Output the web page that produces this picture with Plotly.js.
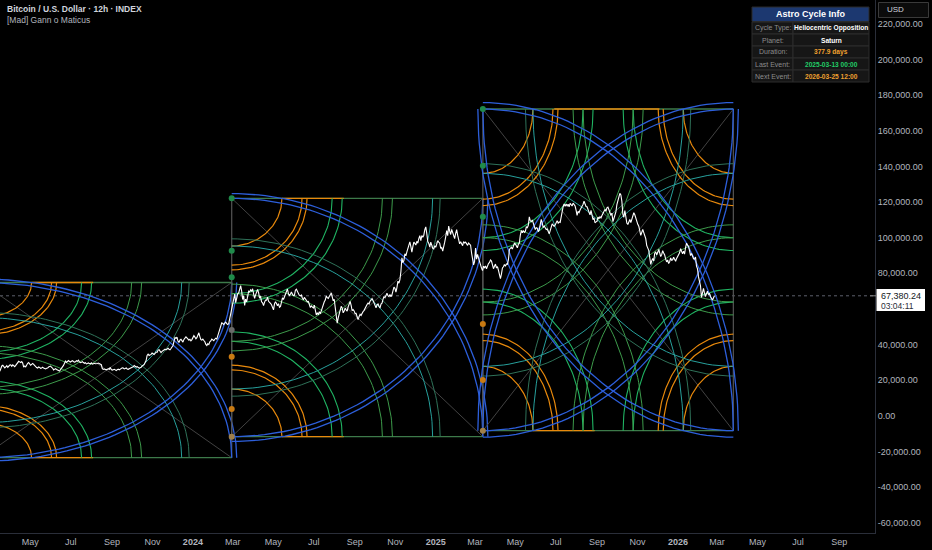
<!DOCTYPE html>
<html><head><meta charset="utf-8">
<script src="https://cdn.plot.ly/plotly-3.0.1.min.js"></script>
<style>html,body{margin:0;padding:0;background:#000;}#chart{width:932px;height:550px;}</style>
</head><body><div id="chart"></div>
<script>
// ---------- DATA ----------
const priceStart = '2023-03-16 00:00';
const priceStepDays = 3;
// price (thousands USD) every 3 days
const priceK = [
25.0,28.0,27.3,27.5,27.2,28.5,
27.8,28.0,28.3,30.0,30.3,30.4,27.3,27.5,29.5,29.3,
28.9,28.9,27.6,26.8,27.2,26.8,26.8,26.3,26.8,27.7,
27.2,25.8,26.5,25.9,25.1,26.3,28.3,30.7,30.3,30.5,
30.6,30.5,30.3,30.6,30.3,30.1,29.9,29.8,29.4,29.3,
29.7,29.2,29.2,29.4,29.3,28.7,26.1,26.0,26.1,26.1,
26.0,25.9,25.8,25.9,25.8,26.6,26.8,26.6,26.3,26.4,
27.0,27.5,27.9,27.6,26.8,27.2,28.4,29.9,33.9,33.9,
34.5,34.9,35.0,35.6,37.1,35.5,36.6,37.4,37.3,37.4,
37.8,39.5,44.0,44.2,41.2,43.0,41.4,43.7,43.7,42.5,
42.1,44.2,44.2,43.9,46.6,42.8,43.1,41.6,39.5,40.0,
42.0,42.6,43.0,43.1,47.1,50.0,51.9,52.1,51.8,51.7,
57.0,62.4,68.3,67.0,69.0,73.1,65.3,62.0,64.0,69.9,
70.7,71.3,66.0,69.0,69.1,67.1,63.4,63.8,64.9,64.3,
63.1,60.6,62.9,63.1,63.0,61.4,66.2,67.0,70.1,68.5,
68.4,68.3,67.7,71.1,69.3,67.3,66.0,66.5,64.9,64.2,
60.8,60.9,62.1,56.6,56.7,57.3,60.8,64.0,67.2,65.9,
67.9,66.8,65.4,58.1,55.0,60.9,60.6,58.9,59.5,61.2,
64.2,59.0,58.9,57.5,54.0,57.0,58.1,59.2,61.7,63.3,
64.3,65.8,63.3,60.7,62.8,60.6,63.2,67.0,68.4,67.4,
68.1,67.9,72.3,69.4,75.6,76.5,88.7,87.2,89.8,94.3,
97.7,91.9,97.5,95.9,96.9,101.2,101.2,101.4,106.1,97.8,
94.7,95.8,93.7,94.6,98.3,96.9,94.5,94.5,100.5,101.1,
103.7,104.7,101.3,102.4,101.4,96.6,96.5,97.8,97.5,95.7,
96.1,91.4,84.7,94.2,90.6,86.2,82.9,84.0,84.1,84.2,
86.1,86.9,82.6,85.2,83.8,79.2,79.6,83.7,84.0,85.1,
93.4,94.7,95.0,96.5,94.3,97.0,104.0,104.1,103.5,105.6,
111.7,109.0,107.8,104.6,105.4,104.3,110.3,105.7,105.5,104.9,
102.2,106.0,107.1,107.1,109.6,108.9,111.3,117.4,117.7,117.9,
117.4,118.3,119.4,117.8,112.5,114.1,116.6,118.7,118.3,117.4,
114.3,115.3,110.1,108.4,109.2,110.7,111.1,113.9,115.9,116.8,
115.7,112.6,109.0,112.2,118.6,122.3,124.0,113.2,115.2,108.2,
108.6,108.5,111.6,112.9,109.6,106.5,101.3,104.7,101.6,95.5,
92.9,85.0,88.3,91.3,90.4,93.4,89.4,92.7,90.3,86.4,
85.5,88.6,87.6,87.8,88.4,90.0,93.8,91.0,90.8,96.9,
95.1,90.0,89.5,88.0,84.0,78.0,73.0,70.0,69.0,68.5,
68.0,67.0,65.0,67.38
];
// intermediate swings (thousands USD), 1.5 days after each value above
const priceMidK = [
26.9,28.4,26.9,28.1,28.0,28.6,
28.6,27.6,28.9,30.6,29.9,29.6,28.0,28.7,29.9,28.4,
29.4,28.1,27.1,27.4,26.6,27.3,26.4,26.7,27.4,27.9,
26.8,26.2,26.0,25.4,25.8,27.0,29.5,30.0,31.0,30.2,
31.0,30.1,30.9,31.2,29.9,30.4,29.5,29.2,29.7,29.1,
29.0,29.5,29.1,29.6,29.0,26.5,26.3,25.8,26.5,27.2,
25.7,26.1,25.4,26.2,26.3,26.9,26.4,26.9,26.1,26.9,
27.3,28.2,27.4,27.3,27.0,28.0,28.7,31.0,34.6,34.1,
35.2,34.4,35.8,36.9,36.3,36.2,37.5,37.0,37.9,37.1,
38.6,41.8,43.5,42.0,42.5,42.2,42.9,44.3,42.9,43.0,
42.8,45.0,43.2,45.1,44.5,42.5,42.3,40.1,40.5,41.5,
43.1,42.2,43.6,45.0,48.5,52.2,51.2,52.6,51.3,54.5,
61.0,65.0,63.5,68.5,71.8,70.0,67.5,65.5,67.0,69.5,
69.9,68.5,67.9,71.0,66.0,64.0,61.9,65.0,66.6,63.9,
62.4,59.5,64.0,61.8,60.9,63.5,65.3,69.0,71.2,67.6,
69.5,67.5,70.5,69.8,67.6,67.8,65.2,65.7,64.0,61.7,
61.7,60.5,59.0,57.9,58.5,58.9,62.9,65.0,66.3,67.0,
69.0,64.6,61.5,52.0,57.5,61.5,57.8,60.5,58.8,63.5,
62.0,59.6,57.4,55.6,55.7,56.3,58.6,60.5,62.5,62.8,
65.2,64.8,61.3,62.3,61.5,62.7,65.4,66.3,68.9,66.9,
66.9,70.5,71.6,72.0,74.5,81.0,86.0,91.0,92.0,96.0,
95.0,95.0,96.8,98.0,99.5,98.4,100.2,104.5,102.3,96.8,
97.5,94.0,95.5,96.8,97.5,94.0,92.5,97.5,104.0,106.5,
101.8,102.5,99.5,104.5,98.0,97.7,95.5,97.0,96.3,97.0,
95.8,88.5,86.5,88.0,88.5,83.5,81.5,83.2,82.6,85.5,
87.5,85.0,84.0,83.0,81.6,77.0,83.0,85.0,85.3,87.5,
94.0,93.6,96.8,95.5,96.3,101.5,102.8,103.0,106.0,107.0,
109.5,110.0,105.5,105.6,103.4,107.5,108.2,106.6,104.6,103.8,
104.0,107.8,106.4,108.3,108.2,108.6,116.0,119.0,118.9,118.8,
119.3,117.8,118.2,115.5,114.8,115.5,117.2,120.5,117.5,115.9,
112.8,113.0,111.2,108.9,111.6,111.8,112.5,115.0,114.9,117.2,
113.5,113.8,110.8,114.5,120.5,124.9,120.5,111.5,111.2,107.4,
110.2,110.0,114.0,110.5,107.5,103.5,103.0,102.9,99.5,94.5,
89.0,87.0,87.0,92.0,91.8,91.5,90.5,91.4,88.0,87.5,
86.5,87.3,89.0,86.8,89.5,91.5,91.9,92.5,94.5,95.8,
92.8,91.2,88.2,89.2,82.5,76.0,66.5,71.5,67.0,70.0,
68.8,66.0,66.2
];
const lastPrice = 67380.24;
const lastPriceText = '67,380.24';
const countdownText = '03:04:11';

// Gann boxes (cycle boundaries and price range)
const boxDates = ['2023-02-16 12:00','2024-02-28 12:00','2025-03-13 00:00','2026-03-25 12:00'];
const boxLow  = [-23530, -11730, -8370];
const boxHigh = [74850, 122120, 172260];
const boxCorners = [['TL','BL'],['TL','BL'],['TL','BL','TR','BR']];
const arcRadii  = [0.2, 0.28, 0.3, 0.4, 0.44, 0.6, 0.64, 0.8, 0.83, 1.0, 1.02];
const arcColors = ['#e8890c','#e8890c','#e8890c','#20b463','#20b463','#3d9b4b','#3d9b4b','#27a09c','#2f7259','#2d5fdb','#2d5fdb'];
const arcWidths = [1.2,1.2,1.2,1.1,1.1,1.0,1.0,1.0,1.0,1.3,1.3];
const topOrange = [[0.2,0.446],[0.2,0.446],[0.285,0.705]];
const botOrange = [[0.2,0.446],[0.2,0.446],[0.2,0.446]];
// level dots on the left edge of boxes 2 and 3
const dotBox = [1,1,1,1,1,1,1, 2,2,2,2,2,2];
const dotValues = [122120, 92700, 77800, 48200, 33200, 3800, -11730, 172260, 140400, 111800, 51500, 20100, -8370];
const dotColors = ['#1f8a4a','#1f8a4a','#1f8a4a','#6a6a6a','#c97a12','#c97a12','#a0804a','#1f8a4a','#1f8a4a','#1f8a4a','#c97a12','#c97a12','#a0804a'];

// axis ticks
const xTickVals = ['2023-05-01','2023-07-01','2023-09-01','2023-11-01','2024-01-01','2024-03-01','2024-05-01','2024-07-01','2024-09-01','2024-11-01','2025-01-01','2025-03-01','2025-05-01','2025-07-01','2025-09-01','2025-11-01','2026-01-01','2026-03-01','2026-05-01','2026-07-01','2026-09-01'];
const xTickText = ['May','Jul','Sep','Nov','<b>2024</b>','Mar','May','Jul','Sep','Nov','<b>2025</b>','Mar','May','Jul','Sep','Nov','<b>2026</b>','Mar','May','Jul','Sep'];
const yTickVals = [-60000,-40000,-20000,0,20000,40000,80000,100000,120000,140000,160000,180000,200000,220000];

// info table
const tableTitle = 'Astro Cycle Info';
const tableLabels = ['Cycle Type:','Planet:','Duration:','Last Event:','Next Event:'];
const tableValues = ['Heliocentric Opposition','Saturn','377.9 days','2025-03-13 00:00','2026-03-25 12:00'];
const tableValueColors = ['#ffffff','#ffffff','#f0a030','#22cc66','#f0a030'];

// ---------- BUILD ----------
const DAY = 86400000;
function ms(s){ return Date.parse(s.replace(' ','T')+'Z'); }
const traces = [];
function line(xs, ys, color, width, dash){
  traces.push({type:'scatter',mode:'lines',x:xs,y:ys,line:{color:color,width:width,dash:dash||'solid'},hoverinfo:'skip',showlegend:false});
}

for (let bi=0; bi<3; bi++){
  const t0 = ms(boxDates[bi]), t1 = ms(boxDates[bi+1]);
  const lo = boxLow[bi], hi = boxHigh[bi];
  const X = u => t0 + u*(t1-t0), Y = v => lo + v*(hi-lo);
  line([X(0),X(1),null,X(0),X(1)],[Y(1),Y(0),null,Y(0),Y(1)],'#4a4a4a',0.9);
  line([X(0),X(0),null,X(1),X(1)],[Y(0),Y(1),null,Y(0),Y(1)],'#555555',1.2);
  line([X(0),X(1),null,X(0),X(1)],[Y(1),Y(1),null,Y(0),Y(0)],'#3d7a4a',1.3);
  line([X(topOrange[bi][0]),X(topOrange[bi][1]),null,X(botOrange[bi][0]),X(botOrange[bi][1])],
       [Y(1),Y(1),null,Y(0),Y(0)],'#e8890c',1.3);
  const groups = {};
  boxCorners[bi].forEach(c => {
    const cx = c[1]==='R'?1:0, cy = c[0]==='T'?1:0;
    const sx = cx?-1:1, sy = cy?-1:1;
    arcRadii.forEach((r,ri) => {
      const key = arcColors[ri]+'_'+arcWidths[ri];
      const g = groups[key] || (groups[key] = {x:[],y:[],c:arcColors[ri],w:arcWidths[ri]});
      const N = 60;
      for (let k=0;k<=N;k++){
        const th = k/N*Math.PI/2;
        g.x.push(X(cx+sx*r*Math.cos(th)));
        g.y.push(Y(cy+sy*r*Math.sin(th)));
      }
      g.x.push(null); g.y.push(null);
    });
  });
  const order = Object.keys(groups);
  order.sort((a,b)=> (a.startsWith('#2d5f')?1:0)-(b.startsWith('#2d5f')?1:0));
  order.forEach(k => line(groups[k].x, groups[k].y, groups[k].c, groups[k].w));
}

// price: interleave main values and intermediate swings
const t0p = ms(priceStart);
const px = [], py = [];
priceK.forEach((v,i) => {
  px.push(t0p + i*priceStepDays*DAY);
  py.push(i===priceK.length-1 ? lastPrice : v*1000);
  if (i < priceMidK.length){
    px.push(t0p + (i+0.5)*priceStepDays*DAY);
    py.push(priceMidK[i]*1000);
  }
});
traces.push({type:'scatter',mode:'lines',x:px,y:py,line:{color:'#ffffff',width:1.1},hoverinfo:'skip',showlegend:false});

traces.push({type:'scatter',mode:'markers',
  x: dotBox.map(b=>ms(boxDates[b])), y: dotValues,
  marker:{size:6,color:dotColors,line:{width:0}}, cliponaxis:false, hoverinfo:'skip',showlegend:false});

// ---------- LAYOUT ----------
const PW = 875, PH = 533;
const PX = p => p/PW, PY = p => 1 - p/PH;
const shapes = [], annotations = [];
const font = 'Liberation Sans, Arial, sans-serif';

shapes.push({type:'line',xref:'paper',yref:'y',x0:0,x1:1,y0:lastPrice,y1:lastPrice,line:{color:'#5d606b',width:1,dash:'dot'},layer:'below'});

const TX0=752, TX1=869, TXM=793;
shapes.push({type:'rect',xref:'paper',yref:'paper',x0:PX(TX0),x1:PX(TX1),y0:PY(7),y1:PY(21.5),fillcolor:'#1c3870',line:{color:'#2a2a2a',width:1}});
annotations.push({xref:'paper',yref:'paper',x:PX((TX0+TX1)/2),y:PY(14.3),text:'<b>'+tableTitle+'</b>',showarrow:false,font:{family:font,size:9,color:'#ffffff'},xanchor:'center',yanchor:'middle'});
for (let i=0;i<tableLabels.length;i++){
  const y0 = 22+i*12, y1 = y0+12;
  shapes.push({type:'rect',xref:'paper',yref:'paper',x0:PX(TX0),x1:PX(TXM),y0:PY(y0),y1:PY(y1),fillcolor:'#161616',line:{color:'#2c2c2c',width:1}});
  shapes.push({type:'rect',xref:'paper',yref:'paper',x0:PX(TXM),x1:PX(TX1),y0:PY(y0),y1:PY(y1),fillcolor:'#161616',line:{color:'#2c2c2c',width:1}});
  annotations.push({xref:'paper',yref:'paper',x:PX((TX0+TXM)/2),y:PY(y0+6),text:tableLabels[i],showarrow:false,font:{family:font,size:7,color:'#8c8c8c'},xanchor:'center',yanchor:'middle'});
  annotations.push({xref:'paper',yref:'paper',x:PX((TXM+TX1)/2),y:PY(y0+6),text:'<b>'+tableValues[i]+'</b>',showarrow:false,font:{family:font,size:6.6,color:tableValueColors[i]},xanchor:'center',yanchor:'middle'});
}

shapes.push({type:'rect',xref:'paper',yref:'paper',x0:PX(878.5),x1:PX(928.5),y0:PY(2.5),y1:PY(17.5),fillcolor:'#0b0b0b',line:{color:'#3a3a3a',width:1}});
annotations.push({xref:'paper',yref:'paper',x:PX(884.5),y:PY(10),text:'USD',showarrow:false,font:{family:font,size:8,color:'#d1d4dc'},xanchor:'left',yanchor:'middle'});

shapes.push({type:'rect',xref:'paper',yref:'paper',x0:PX(876.5),x1:PX(925),y0:PY(289),y1:PY(311),fillcolor:'#ffffff',line:{width:0}});
shapes.push({type:'line',xref:'paper',yref:'y',x0:PX(870),x1:PX(876),y0:lastPrice,y1:lastPrice,line:{color:'#888',width:1}});
annotations.push({xref:'paper',yref:'paper',x:PX(879),y:PY(296),text:lastPriceText,showarrow:false,font:{family:font,size:9,color:'#131722'},xanchor:'left',yanchor:'middle'});
annotations.push({xref:'paper',yref:'paper',x:PX(879),y:PY(305.5),text:countdownText,showarrow:false,font:{family:font,size:8.5,color:'#2a2e39'},xanchor:'left',yanchor:'middle'});

annotations.push({xref:'paper',yref:'paper',x:PX(5),y:PY(9),text:'<b>Bitcoin / U.S. Dollar · 12h · INDEX</b>',showarrow:false,font:{family:font,size:8.5,color:'#d1d4dc'},xanchor:'left',yanchor:'middle'});
annotations.push({xref:'paper',yref:'paper',x:PX(5),y:PY(20),text:'[Mad] Gann o Maticus',showarrow:false,font:{family:font,size:8.5,color:'#b2b5be'},xanchor:'left',yanchor:'middle'});

const yTickText = yTickVals.map(v => (v<0?'-':'') + Math.abs(v).toLocaleString('en-US',{minimumFractionDigits:2,maximumFractionDigits:2}));

const layout = {
  width:932, height:550,
  paper_bgcolor:'#000000', plot_bgcolor:'#000000',
  margin:{l:0,r:57,t:0,b:17,pad:0},
  showlegend:false,
  xaxis:{type:'date',range:['2023-03-16 07:00','2026-10-25 00:00'],tickvals:xTickVals,ticktext:xTickText,
    showgrid:false,zeroline:false,showline:true,linecolor:'#2a2e39',linewidth:1,ticks:'',
    tickfont:{family:font,size:9,color:'#b2b5be'},fixedrange:true},
  yaxis:{side:'right',range:[-65800,233470],tickvals:yTickVals,ticktext:yTickText,
    showgrid:false,zeroline:false,showline:true,linecolor:'#2a2e39',linewidth:1,ticks:'',
    tickfont:{family:font,size:9,color:'#b2b5be'},fixedrange:true},
  shapes:shapes, annotations:annotations
};
Plotly.newPlot('chart', traces, layout, {staticPlot:true,displayModeBar:false});
</script></body></html>
